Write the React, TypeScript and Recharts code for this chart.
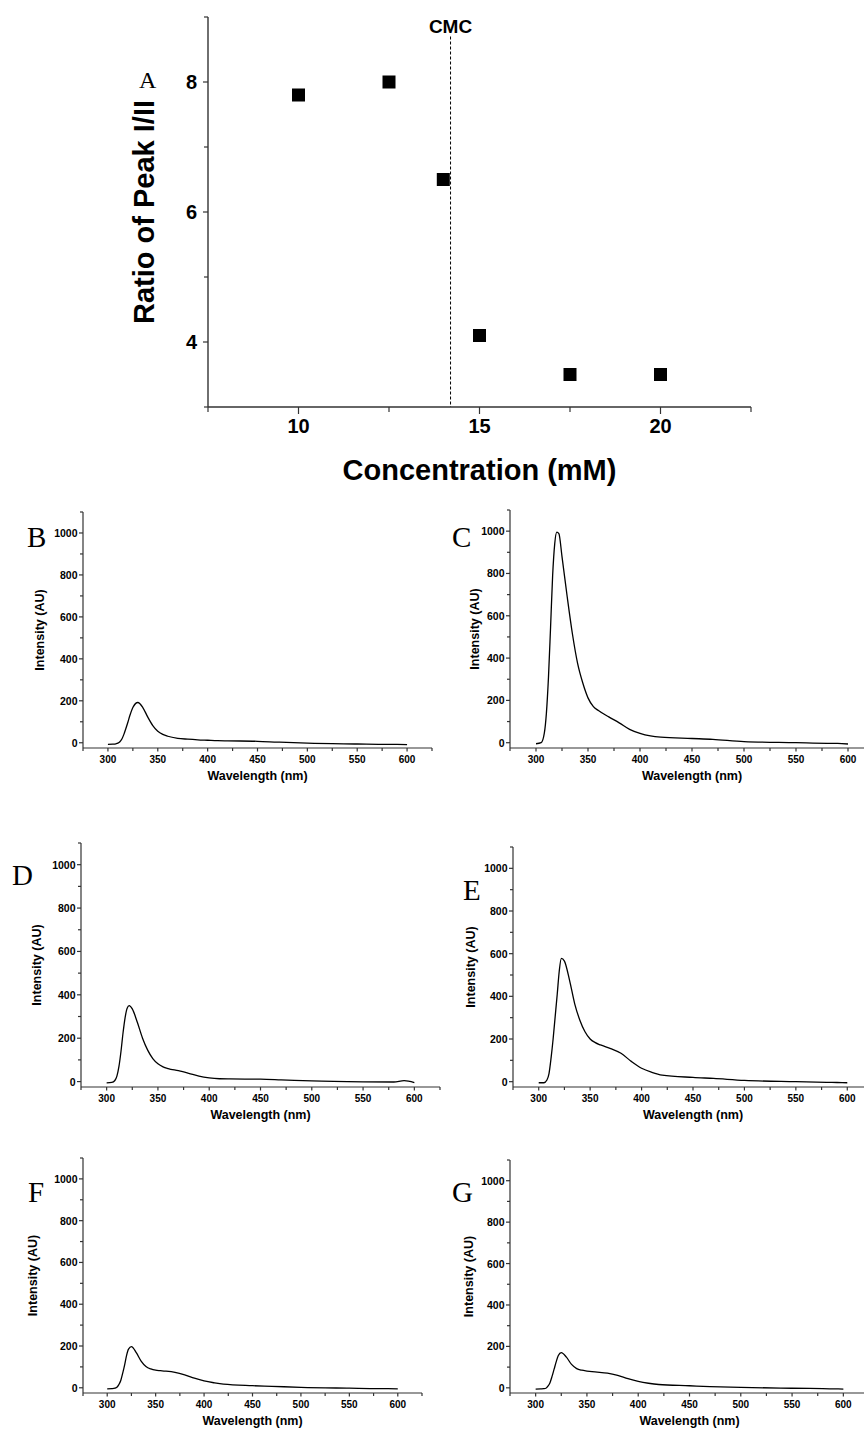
import { LineChart, Line, ScatterChart, Scatter, XAxis, YAxis, ReferenceLine, Label } from "recharts";

// Panel A: ratio of peak I/II vs concentration
const CONCENTRATION = [10, 12.5, 14, 15, 17.5, 20];
const PEAK_RATIO = [7.8, 8.0, 6.5, 4.1, 3.5, 3.5];
const CMC_VALUE = 14.2;
const CONC_TICKS = [7.5, 10, 12.5, 15, 17.5, 20, 22.5];
const RATIO_TICKS = [3, 4, 5, 6, 7, 8, 9];

// Panels B-G: emission spectra
const WAVELENGTH = [300, 305, 308, 310, 312, 314, 316, 318, 320, 322, 325, 330, 335, 340, 345, 350, 355, 360, 370, 380, 390, 400, 410, 420, 450, 470, 500, 550, 580, 590, 600];
const SPEC_B = [-8, -7, -5, -2, 5, 18, 40, 68, 98, 130, 168, 192, 168, 122, 82, 55, 40, 31, 21, 17, 14, 12, 10, 9, 7, 3, -2, -6, -8, -8, -9];
const SPEC_C = [-5, 0, 45, 140, 310, 545, 790, 940, 995, 988, 880, 690, 515, 375, 282, 212, 172, 152, 122, 94, 63, 44, 32, 26, 20, 16, 5, 0, -3, -3, -6];
const SPEC_D = [-6, -4, 5, 25, 70, 140, 225, 295, 338, 350, 335, 272, 200, 145, 106, 82, 68, 60, 50, 38, 25, 17, 13, 12, 11, 8, 3, -1, -2, 4, -5];
const SPEC_E = [-5, -5, 8, 38, 110, 200, 305, 410, 520, 578, 565, 475, 365, 288, 234, 200, 183, 172, 155, 133, 95, 63, 44, 31, 20, 15, 6, 0, -3, -4, -5];
const SPEC_F = [-5, -4, -2, 2, 15, 35, 70, 110, 155, 185, 197, 168, 128, 102, 90, 84, 82, 80, 74, 62, 46, 33, 24, 17, 10, 7, 2, -2, -4, -4, -5];
const SPEC_G = [-6, -5, -4, -2, 8, 25, 55, 90, 125, 155, 170, 148, 113, 93, 85, 81, 78, 76, 71, 60, 44, 31, 22, 16, 10, 6, 2, -2, -4, -5, -6];
const WL_TICKS = [275, 300, 325, 350, 375, 400, 425, 450, 475, 500, 525, 550, 575, 600, 625];
const INT_TICKS = [0, 100, 200, 300, 400, 500, 600, 700, 800, 900, 1000, 1100];

const FONT = "Arial, 'Liberation Sans', Helvetica, sans-serif";
const SERIF = "'Times New Roman', 'Liberation Serif', serif";
const AXIS = "#333";

const xTick = (isMajor: (v: number) => boolean, len: number, minorLen: number, off: number, size: number) => (p: any) => {
  const v = p.payload.value;
  const major = isMajor(v);
  return (
    <g>
      <line x1={p.x} x2={p.x} y1={p.y} y2={p.y + (major ? len : minorLen)} stroke={AXIS} strokeWidth={1.2} />
      {major && (
        <text x={p.x} y={p.y + off} textAnchor="middle" dominantBaseline="central" fontSize={size} fontWeight="bold" fontFamily={FONT} fill="#000">
          {v}
        </text>
      )}
    </g>
  );
};

const yTick = (isMajor: (v: number) => boolean, len: number, minorLen: number, gap: number, size: number) => (p: any) => {
  const v = p.payload.value;
  const major = isMajor(v);
  return (
    <g>
      <line x1={p.x - (major ? len : minorLen)} x2={p.x} y1={p.y} y2={p.y} stroke={AXIS} strokeWidth={1.2} />
      {major && (
        <text x={p.x - len - gap} y={p.y} textAnchor="end" dominantBaseline="central" fontSize={size} fontWeight="bold" fontFamily={FONT} fill="#000">
          {v}
        </text>
      )}
    </g>
  );
};

const xTitle = (text: string, dy: number, size: number) => (p: any) => {
  const vb = p.viewBox;
  return (
    <text x={vb.x + vb.width / 2} y={vb.y + dy} textAnchor="middle" dominantBaseline="central" fontSize={size} fontWeight="bold" fontFamily={FONT} fill="#000">
      {text}
    </text>
  );
};

const yTitle = (text: string, dx: number, size: number) => (p: any) => {
  const vb = p.viewBox;
  const x = vb.x + vb.width - dx;
  const y = vb.y + vb.height / 2;
  return (
    <text x={x} y={y} transform={`rotate(-90 ${x} ${y})`} textAnchor="middle" dominantBaseline="central" fontSize={size} fontWeight="bold" fontFamily={FONT} fill="#000">
      {text}
    </text>
  );
};

function RatioChart() {
  const data = CONCENTRATION.map((c, i) => ({ x: c, y: PEAK_RATIO[i] }));
  const l = 208, t = 17, r = 751, b = 407, yw = 100, xh = 90;
  return (
    <div style={{ position: "absolute", left: l - yw, top: t - 10 }}>
      <ScatterChart width={r - l + yw + 10} height={b - t + 10 + xh} margin={{ top: 10, right: 10, bottom: 0, left: 0 }}>
        <XAxis
          dataKey="x"
          type="number"
          domain={[7.5, 22.5]}
          ticks={CONC_TICKS}
          interval={0}
          tickSize={0}
          tickMargin={0}
          tickLine={false}
          axisLine={{ stroke: AXIS, strokeWidth: 1.4 }}
          tick={xTick((v) => v % 5 === 0, 7, 5, 19, 20)}
          height={xh}
        >
          <Label content={xTitle("Concentration (mM)", 63, 29)} />
        </XAxis>
        <YAxis
          dataKey="y"
          type="number"
          domain={[3, 9]}
          ticks={RATIO_TICKS}
          interval={0}
          tickSize={0}
          tickMargin={0}
          tickLine={false}
          axisLine={{ stroke: AXIS, strokeWidth: 1.4 }}
          tick={yTick((v) => v % 2 === 0, 5, 4, 6, 20)}
          width={yw}
        >
          <Label content={yTitle("Ratio of Peak I/II", 64, 29)} />
        </YAxis>
        <ReferenceLine
          segment={[{ x: CMC_VALUE, y: 8.7 }, { x: CMC_VALUE, y: 3 }]}
          stroke="#000"
          strokeWidth={1}
          strokeDasharray="3 2"
          label={{ value: "CMC", position: "top", offset: 4, fontSize: 19, fontWeight: "bold", fontFamily: FONT, fill: "#000" }}
        />
        <Scatter
          data={data}
          isAnimationActive={false}
          shape={(p: any) => <rect x={p.cx - 6.5} y={p.cy - 6.5} width={13} height={13} fill="#000" />}
        />
      </ScatterChart>
    </div>
  );
}

interface SpectrumProps {
  values: number[];
  l: number;
  t: number;
  r: number;
  b: number;
  titleDx: number;
}

function Spectrum({ values, l, t, r, b, titleDx }: SpectrumProps) {
  const data = WAVELENGTH.map((w, i) => ({ x: w, v: values[i] }));
  const yw = 60, xh = 50;
  return (
    <div style={{ position: "absolute", left: l - yw, top: t - 10 }}>
      <LineChart data={data} width={r - l + yw + 10} height={b - t + 10 + xh} margin={{ top: 10, right: 10, bottom: 0, left: 0 }}>
        <XAxis
          dataKey="x"
          type="number"
          domain={[275, 625]}
          ticks={WL_TICKS}
          interval={0}
          tickSize={0}
          tickMargin={0}
          tickLine={false}
          axisLine={{ stroke: AXIS, strokeWidth: 1.2 }}
          tick={xTick((v) => v % 50 === 0, 3.5, 3, 11, 10)}
          height={xh}
        >
          <Label content={xTitle("Wavelength (nm)", 28, 12.5)} />
        </XAxis>
        <YAxis
          type="number"
          domain={[-25, 1100]}
          ticks={INT_TICKS}
          interval={0}
          tickSize={0}
          tickMargin={0}
          tickLine={false}
          axisLine={{ stroke: AXIS, strokeWidth: 1.2 }}
          tick={yTick((v) => v % 200 === 0, 4, 3, 1.5, 10.5)}
          width={yw}
        >
          <Label content={yTitle("Intensity (AU)", titleDx, 12.5)} />
        </YAxis>
        <Line type="monotone" dataKey="v" stroke="#000" strokeWidth={1.3} dot={false} isAnimationActive={false} />
      </LineChart>
    </div>
  );
}

const LETTERS = [
  { text: "A", x: 139, y: 88, size: 24 },
  { text: "B", x: 27, y: 547, size: 29 },
  { text: "C", x: 452, y: 547, size: 29 },
  { text: "D", x: 12, y: 885, size: 29 },
  { text: "E", x: 463, y: 900, size: 29 },
  { text: "F", x: 28, y: 1202, size: 29 },
  { text: "G", x: 452, y: 1202, size: 29 },
];

export default function App() {
  return (
    <div style={{ position: "absolute", left: 0, top: 0, width: 864, height: 1434, overflow: "hidden", background: "#fff" }}>
      <RatioChart />
      <Spectrum values={SPEC_B} l={83} t={512} r={432} b={748} titleDx={43} />
      <Spectrum values={SPEC_C} l={510} t={510} r={874} b={748} titleDx={35} />
      <Spectrum values={SPEC_D} l={81} t={843} r={440} b={1087} titleDx={44} />
      <Spectrum values={SPEC_E} l={513} t={847} r={873} b={1087} titleDx={42} />
      <Spectrum values={SPEC_F} l={83} t={1158} r={422} b={1393} titleDx={50} />
      <Spectrum values={SPEC_G} l={510} t={1160} r={869} b={1393} titleDx={41} />
      <svg width={864} height={1434} style={{ position: "absolute", left: 0, top: 0, pointerEvents: "none" }}>
        {LETTERS.map((d) => (
          <text key={d.text} x={d.x} y={d.y} fontSize={d.size} fontFamily={SERIF} fill="#000">
            {d.text}
          </text>
        ))}
      </svg>
    </div>
  );
}
